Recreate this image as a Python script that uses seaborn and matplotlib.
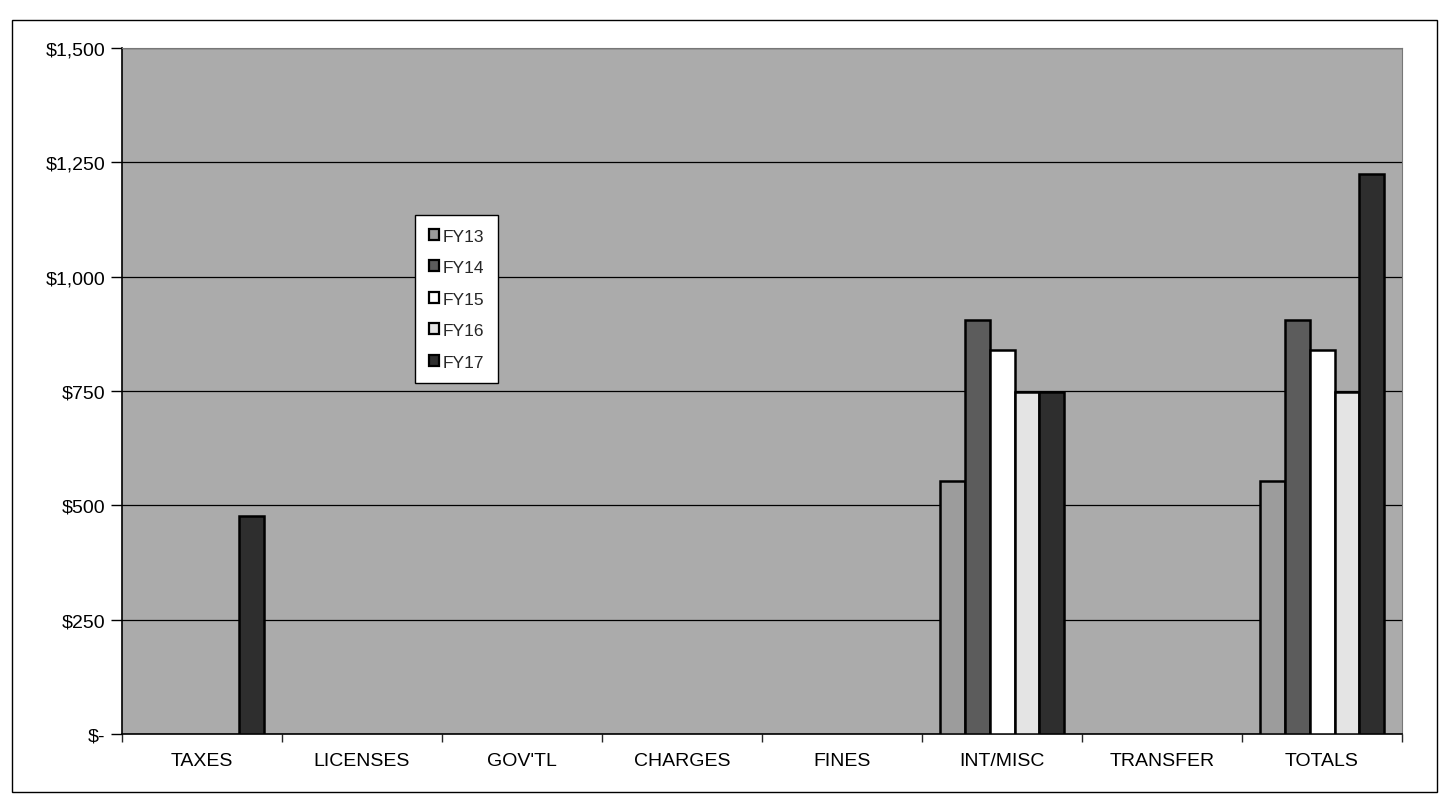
import matplotlib
matplotlib.use("Agg")
import matplotlib.pyplot as plt
import seaborn as sns
import pandas as pd
from matplotlib.ticker import FuncFormatter
from matplotlib.patches import Patch

categories = ["TAXES", "LICENSES", "GOV'TL", "CHARGES", "FINES", "INT/MISC", "TRANSFER", "TOTALS"]
years = ["FY13", "FY14", "FY15", "FY16", "FY17"]
fy13 = [0, 0, 0, 0, 0, 553, 0, 553]
fy14 = [0, 0, 0, 0, 0, 905, 0, 905]
fy15 = [0, 0, 0, 0, 0, 840, 0, 840]
fy16 = [0, 0, 0, 0, 0, 748, 0, 748]
fy17 = [477, 0, 0, 0, 0, 748, 0, 1225]
yticks = [0, 250, 500, 750, 1000, 1250, 1500]

series = {"FY13": fy13, "FY14": fy14, "FY15": fy15, "FY16": fy16, "FY17": fy17}
rows = []
for y in years:
    for c, v in zip(categories, series[y]):
        rows.append({"category": c, "year": y, "value": v})
df = pd.DataFrame(rows)

sns.set_theme(style="white")
plt.rcParams["font.family"] = ["Liberation Sans", "DejaVu Sans"]

colors = ["#9c9c9c", "#5c5c5c", "#ffffff", "#e4e4e4", "#2e2e2e"]

fig = plt.figure(figsize=(14.46, 8.03), dpi=100)
fig.patch.set_facecolor("white")
fig.add_artist(plt.Rectangle((0.008, 0.012), 0.986, 0.962, transform=fig.transFigure,
                             fill=False, edgecolor="black", linewidth=1.0))
ax = fig.add_axes([0.0844, 0.0847, 0.8852, 0.8543])
ax.set_facecolor("#ababab")

sns.barplot(data=df, x="category", y="value", hue="year", hue_order=years,
            order=categories, palette=colors, width=0.78, ax=ax,
            edgecolor="black", linewidth=1.8, saturation=1, zorder=3, legend=False)

for p in ax.patches:
    if p.get_height() == 0:
        p.set_visible(False)

ax.set_ylim(0, 1500)
ax.set_yticks(yticks)
ax.yaxis.set_major_formatter(FuncFormatter(lambda v, pos: "$-" if v == 0 else f"${v:,.0f}"))
ax.yaxis.grid(True, color="black", linewidth=0.9, zorder=1)
ax.set_axisbelow(True)
ax.set_xlabel("")
ax.set_ylabel("")

ax.set_xticks([i for i in range(len(categories))])
ax.set_xticklabels(categories)
ax.tick_params(axis="x", length=0, pad=13, labelsize=14, colors="black")
ax.tick_params(axis="y", length=8, width=1, direction="out", pad=4, labelsize=14,
               colors="black", left=True)
ax.set_xticks([i - 0.5 for i in range(len(categories) + 1)], minor=True)
ax.tick_params(axis="x", which="minor", length=6, width=1, direction="out", bottom=True)
ax.set_xlim(-0.5, len(categories) - 0.5)

for s in ["left", "bottom"]:
    ax.spines[s].set_color("black")
    ax.spines[s].set_linewidth(1.2)
for s in ["top", "right"]:
    ax.spines[s].set_visible(True)
    ax.spines[s].set_color("#777777")
    ax.spines[s].set_linewidth(0.8)

handles = [Patch(facecolor=c, edgecolor="black", linewidth=1.6, label=y)
           for c, y in zip(colors, years)]
leg = ax.legend(handles=handles, loc="upper left", bbox_to_anchor=(0.229, 0.757),
                frameon=True, fancybox=False, edgecolor="black", facecolor="white",
                framealpha=1, fontsize=12.5, handlelength=0.6, handleheight=0.6,
                handletextpad=0.2, labelspacing=0.95, borderpad=0.8, borderaxespad=0)
leg.get_frame().set_linewidth(1.0)
fig.canvas.draw()
# widen legend box slightly on the right like the reference
leg._legend_box.set_width = leg._legend_box.set_width

fig.savefig("out.png", dpi=100)
